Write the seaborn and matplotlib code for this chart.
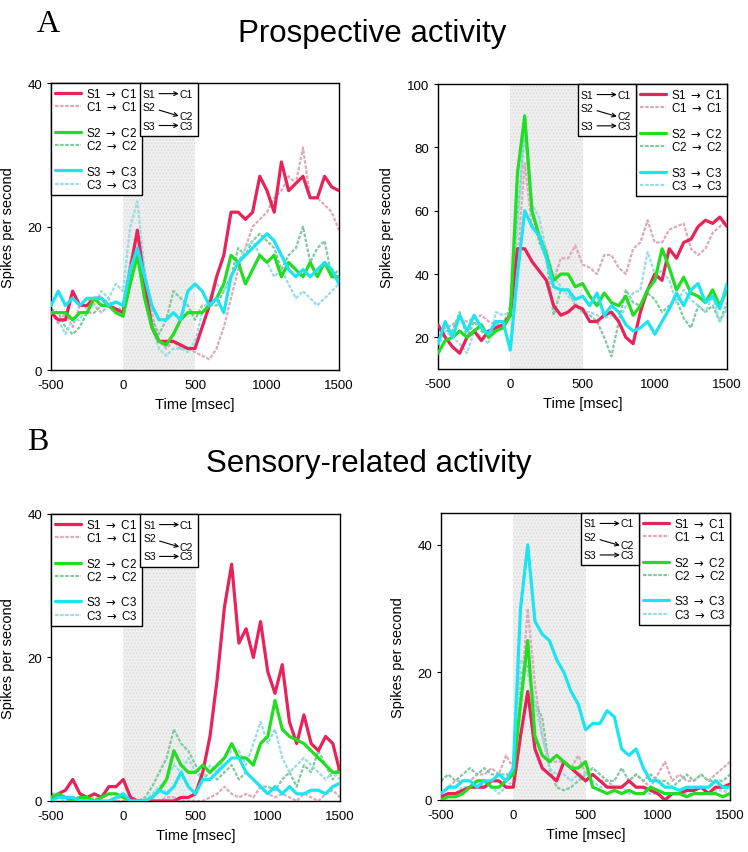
import numpy as np
import pandas as pd
import matplotlib
matplotlib.use('Agg')
import matplotlib.pyplot as plt
from matplotlib.lines import Line2D
from matplotlib.patches import Rectangle
import seaborn as sns

# 時間軸 (msec) 50ms刻み
time_ms = [-500, -450, -400, -350, -300, -250, -200, -150, -100, -50, 0,
           50, 100, 150, 200, 250, 300, 350, 400, 450, 500,
           550, 600, 650, 700, 750, 800, 850, 900, 950, 1000,
           1050, 1100, 1150, 1200, 1250, 1300, 1350, 1400, 1450, 1500]

series_names = [r'S1 $\rightarrow$ C1', r'C1 $\rightarrow$ C1',
                r'S2 $\rightarrow$ C2', r'C2 $\rightarrow$ C2',
                r'S3 $\rightarrow$ C3', r'C3 $\rightarrow$ C3']
series_colors = ['#e8235a', '#dcaabb', '#22dd22', '#80caa0', '#1ee4f2', '#96dde4']

# A: prospective activity, left cell
a1_s1 = [8, 7, 7, 11, 9, 9, 10, 10, 9, 8.5, 8,
         14, 19.5, 12, 6, 4, 4, 4, 3.5, 3, 3,
         6, 9, 13, 16, 22, 22, 21, 22, 27, 25,
         22, 29, 25, 26, 27, 24, 24, 27, 25.5, 25]
a1_c1 = [8, 6.5, 8, 6, 9, 10, 9, 8, 9, 9.5, 9,
         15, 19, 14, 8, 4, 3, 4, 3, 3, 2.5,
         2, 1.5, 3, 6, 10, 14, 17, 20, 21, 22,
         24, 25, 27, 26, 31, 24, 24, 23, 22, 19.5]
a1_s2 = [8, 8, 8, 7, 8, 8, 10, 9, 9, 8, 7.5,
         12, 16, 10, 6, 4, 3.5, 5, 7, 8, 8,
         8, 9, 10, 12, 16, 15, 12, 14, 16, 15,
         16, 13, 15, 14, 13, 15, 13, 15, 13, 13]
a1_c2 = [8.5, 8, 6, 5, 6, 8, 8, 9, 10, 8, 9,
         14, 17, 12, 7, 5, 7, 11, 10, 9, 7,
         9, 9, 9, 11, 13, 17, 16, 18, 19, 18,
         17, 14, 16, 17, 20, 15, 17, 18, 13, 14]
a1_s3 = [9, 11, 9, 10, 9, 10, 10, 10, 9, 9.5, 9,
         14, 17, 13, 9, 7, 7, 8, 7, 11, 12,
         11, 9, 10, 8, 13, 15, 16, 17, 18, 19,
         18, 16, 14, 13, 14, 13, 14, 15, 14, 12]
a1_c3 = [8, 7, 5, 7, 7, 9, 9, 11, 10, 12, 11,
         20, 23.5, 14, 6, 3, 2, 3, 3, 2.5, 4,
         8, 10, 12, 11, 13, 15, 17, 18, 16, 15,
         13, 14, 12, 10, 11, 10, 9, 10, 11, 12]

# A: prospective activity, right cell
a2_s1 = [24, 20, 17, 15, 20, 22, 19, 22, 23, 24, 27,
         48, 48, 44, 41, 38, 30, 27, 28, 30, 29,
         25, 25, 27, 28, 25, 20, 18, 28, 35, 40,
         38, 48, 45, 50, 51, 55, 57, 56, 58, 55]
a2_c1 = [22, 23, 24, 26, 25, 26, 27, 25, 24, 25, 28,
         45, 75, 55, 53, 48, 38, 45, 45, 49, 43,
         42, 40, 46, 46, 42, 40, 48, 50, 57, 50,
         50, 54, 55, 56, 48, 46, 48, 53, 55, 57]
a2_s2 = [15, 19, 20, 22, 20, 22, 24, 20, 22, 23, 27,
         72, 90, 60, 52, 46, 38, 40, 40, 36, 37,
         33, 30, 34, 31, 30, 33, 27, 30, 35, 38,
         48, 42, 35, 39, 34, 33, 31, 35, 30, 35]
a2_c2 = [20, 22, 22, 28, 20, 25, 22, 20, 24, 23, 30,
         58, 85, 60, 50, 45, 27, 35, 35, 30, 28,
         27, 25, 20, 14, 25, 35, 31, 30, 34, 32,
         28, 30, 32, 26, 23, 30, 28, 30, 25, 31]
a2_s3 = [18, 25, 20, 27, 22, 27, 23, 21, 25, 25, 16,
         40, 60, 55, 52, 45, 36, 35, 35, 32, 33,
         30, 34, 27, 30, 28, 24, 22, 23, 25, 21,
         25, 29, 34, 30, 35, 37, 31, 33, 29, 37]
a2_c3 = [17, 22, 20, 18, 15, 22, 20, 18, 28, 27, 28,
         55, 87, 62, 58, 47, 39, 36, 33, 31, 28,
         28, 27, 26, 27, 25, 30, 34, 35, 47, 40,
         41, 38, 31, 35, 32, 30, 28, 33, 25, 29]

# B: sensory-related activity, left cell
b1_s1 = [0, 1, 1.5, 3, 1, 0.5, 1, 0.5, 2, 2, 3,
         0.5, 0, 0, 0, 0, 0, 0, 0.5, 0.5, 1,
         4, 9, 17, 27, 33, 22, 24, 20, 25, 18,
         15, 19, 11, 8, 12, 8, 7, 9, 8, 4]
b1_c1 = [0.5, 0.5, 0.5, 0.5, 0.5, 0, 0, 0, 0, 0, 0,
         0, 0, 0, 0, 0, 0.5, 0.5, 0, 0, 0,
         0, 0.5, 1, 2, 1, 0.5, 1, 0.5, 2, 1,
         0.5, 1, 0.5, 0, 1, 0.5, 0, 1, 1.5, 0.5]
b1_s2 = [0.5, 1, 0.5, 0, 0.5, 0.5, 0, 0.5, 1, 1, 0.5,
         0, 0, 0, 0.5, 1.5, 3, 7, 5, 4, 4,
         5, 4, 5, 6, 8, 6, 6, 5, 8, 9,
         14, 10, 9, 8.5, 8, 7, 6, 5, 4, 4]
b1_c2 = [1, 1, 0.5, 0, 0.5, 0, 0, 0, 0, 0, 1,
         0, 0, 0.5, 2, 4, 6, 10, 8, 7, 5,
         3, 4, 3, 4, 5, 3, 4, 3, 2, 2,
         1.5, 3, 4, 2, 5, 4, 7, 5, 3, 5]
b1_s3 = [0, 0.5, 0.5, 0.5, 0, 0, 0, 0, 0, 0.5, 1,
         0, 0, 0, 0.5, 1.5, 1, 2, 4, 2, 1,
         3, 3, 4, 5, 6, 6, 4, 3, 2, 1,
         2, 1, 2, 1, 1, 1.5, 1.5, 1, 2, 2.5]
b1_c3 = [0.5, 0.5, 0, 0, 0, 0, 0.5, 0, 0, 0, 1,
         0, 0, 0, 1, 2, 3, 5, 4, 6, 4,
         3, 5, 4, 6, 7, 7, 5, 8, 11, 8,
         10, 6, 4, 5, 6, 5, 4, 3, 4, 3]

# B: sensory-related activity, right cell
b2_s1 = [0.5, 1, 1, 1.5, 2, 2, 2, 3, 3, 2, 2,
         10, 17, 8, 5, 4, 3, 6, 5, 4, 3,
         4, 3, 2, 2, 2, 3, 2, 2, 1.5, 1,
         0, 1, 1, 1.5, 1.5, 2, 1, 2, 2, 2.5]
b2_c1 = [1, 2, 3, 3, 3, 4, 4, 5, 4, 7, 5,
         15, 30, 18, 10, 6, 6, 6, 5, 7, 4,
         4, 3, 3, 2, 2, 3, 4, 3, 2, 4,
         6, 3, 4, 3, 3, 4, 3, 4, 5, 6]
b2_s2 = [0, 0.5, 0.5, 1, 2, 3, 3, 2, 2, 3, 4,
         15, 25, 10, 7, 6, 7, 6, 5, 5, 6,
         2, 1.5, 1, 1.5, 1, 1.5, 1, 1, 2, 1.5,
         1, 1, 1, 0.5, 1, 1, 1, 1, 0.5, 1]
b2_c2 = [3, 4, 3, 4, 5, 4, 5, 4, 4, 4, 4,
         20, 21, 15, 13, 5, 2, 1.5, 2, 3, 4,
         5, 4, 3, 3, 5, 3, 4, 3, 4, 3,
         3, 2, 3, 4, 3, 4, 3, 3, 3, 4]
b2_s3 = [1, 2, 2, 3, 3, 2, 3, 3, 4, 3, 5,
         30, 40, 28, 26, 25, 22, 20, 17, 15, 11,
         12, 12, 14, 13, 8, 7, 8, 5, 3, 3,
         2, 2, 1.5, 2, 2, 2, 2, 3, 2, 2]
b2_c3 = [0.5, 1, 1, 2, 2, 3, 2, 2, 1, 2, 3,
         22, 20, 15, 10, 5, 4, 4, 3, 4, 4,
         3, 2, 2, 2, 2, 1, 1, 1, 1, 1,
         1, 1, 1, 1, 1, 1, 1, 1.5, 1.5, 1]

sns.set_style('white')
plt.rcParams['font.family'] = ['Liberation Sans', 'DejaVu Sans']
plt.rcParams['axes.unicode_minus'] = False
plt.rcParams['mathtext.fontset'] = 'dejavusans'
for key in ['text.color', 'axes.labelcolor', 'xtick.color', 'ytick.color']:
    plt.rcParams[key] = 'black'

c_dash = (0, (1.6, 0.7))


def draw_route_box(ax, x0, x1, y0, y1):
    # S1->C1 などの対応を示す小さな箱
    w, h = x1 - x0, y1 - y0
    ax.add_patch(Rectangle((x0, y0), w, h, transform=ax.transAxes,
                           facecolor='white', edgecolor='black', lw=1,
                           zorder=8, clip_on=False))
    rows = [('S1', 'C1', 0.2, 0.2), ('S2', 'C2', 0.45, 0.62),
            ('S3', 'C3', 0.8, 0.8)]
    for src, dst, ys, yd in rows:
        ax.text(x0 + 0.05 * w, y1 - ys * h, src, transform=ax.transAxes,
                fontsize=7.5, ha='left', va='center', zorder=9)
        ax.text(x0 + 0.68 * w, y1 - yd * h, dst, transform=ax.transAxes,
                fontsize=7.5, ha='left', va='center', zorder=9)
        ay = 0.06 if src == 'S2' else 0.0
        ax.annotate('', xy=(x0 + 0.67 * w, y1 - yd * h),
                    xytext=(x0 + 0.33 * w, y1 - (ys + ay) * h),
                    xycoords='axes fraction',
                    arrowprops=dict(arrowstyle='->', lw=0.8, color='black',
                                    shrinkA=0, shrinkB=0,
                                    mutation_scale=7),
                    zorder=9)


def draw_panel(ax, data, ylim, yticks, legend_side):
    ax.axvspan(0, 500, facecolor='#f1f1f1', edgecolor='#dedede',
               hatch='.....', linewidth=0, zorder=0)
    for i, (name, col) in enumerate(zip(series_names, series_colors)):
        if i % 2 == 0:
            sns.lineplot(x=time_ms, y=data[i], ax=ax, color=col, lw=2.3,
                         zorder=3)
        else:
            sns.lineplot(x=time_ms, y=data[i], ax=ax, color=col, lw=1.6,
                         linestyle=c_dash, zorder=2)
    ax.set_xlim(-500, 1500)
    ax.set_ylim(*ylim)
    ax.set_xticks([-500, 0, 500, 1000, 1500])
    ax.set_yticks(yticks)
    ax.tick_params(labelsize=9.5, length=3, direction='out', left=True,
                   bottom=False)
    ax.set_xlabel('Time [msec]', fontsize=10.5, labelpad=4)
    ax.set_ylabel('Spikes per second', fontsize=10.5, labelpad=9)
    for sp in ax.spines.values():
        sp.set_color('black')
        sp.set_linewidth(1)

    handles = []
    for i, (name, col) in enumerate(zip(series_names, series_colors)):
        if i % 2 == 0:
            handles.append(Line2D([], [], color=col, lw=2.3, label=name))
        else:
            handles.append(Line2D([], [], color=col, lw=1.6,
                                  linestyle=c_dash, label=name))
            if i < 5:
                handles.append(Line2D([], [], color='none', label=' '))
    leg_kw = dict(handles=handles, fontsize=8.4, labelspacing=0.02,
                  handlelength=2.2, handletextpad=0.45, borderpad=0.35,
                  borderaxespad=0, fancybox=False, framealpha=1,
                  edgecolor='black')
    if legend_side == 'left':
        leg = ax.legend(loc='upper left', bbox_to_anchor=(0, 1), **leg_kw)
        draw_route_box(ax, 0.309, 0.51, 0.815, 1.0)
    else:
        leg = ax.legend(loc='upper right', bbox_to_anchor=(1, 1), **leg_kw)
        draw_route_box(ax, 0.484, 0.685, 0.817, 1.0)
    leg.set_zorder(7)
    leg.get_frame().set_linewidth(1)


fig = plt.figure(figsize=(7.48, 8.53), dpi=100)
fig.patch.set_facecolor('white')

ax_a1 = fig.add_axes([0.0682, 0.565, 0.385, 0.3365])
ax_a2 = fig.add_axes([0.5856, 0.5662, 0.3864, 0.334])
ax_b1 = fig.add_axes([0.0682, 0.0598, 0.3864, 0.3365])
ax_b2 = fig.add_axes([0.5896, 0.061, 0.3864, 0.3365])

draw_panel(ax_a1, [a1_s1, a1_c1, a1_s2, a1_c2, a1_s3, a1_c3],
           (0, 40), [0, 20, 40], 'left')
draw_panel(ax_a2, [a2_s1, a2_c1, a2_s2, a2_c2, a2_s3, a2_c3],
           (10, 100), [20, 40, 60, 80, 100], 'right')
draw_panel(ax_b1, [b1_s1, b1_c1, b1_s2, b1_c2, b1_s3, b1_c3],
           (0, 40), [0, 20, 40], 'left')
draw_panel(ax_b2, [b2_s1, b2_c1, b2_s2, b2_c2, b2_s3, b2_c3],
           (0, 45), [0, 20, 40], 'right')

fig.text(0.049, 1 - 32 / 853, 'A', family=['Liberation Serif', 'DejaVu Serif'],
         fontsize=23, va='baseline', ha='left')
fig.text(0.036, 1 - 450 / 853, 'B', family=['Liberation Serif', 'DejaVu Serif'],
         fontsize=23, va='baseline', ha='left')
fig.text(0.497, 1 - 42 / 853, 'Prospective activity', fontsize=22.5,
         ha='center', va='baseline')
fig.text(0.493, 1 - 472 / 853, 'Sensory-related activity', fontsize=22.5,
         ha='center', va='baseline')

fig.savefig('out.png', dpi=100, facecolor='white')
